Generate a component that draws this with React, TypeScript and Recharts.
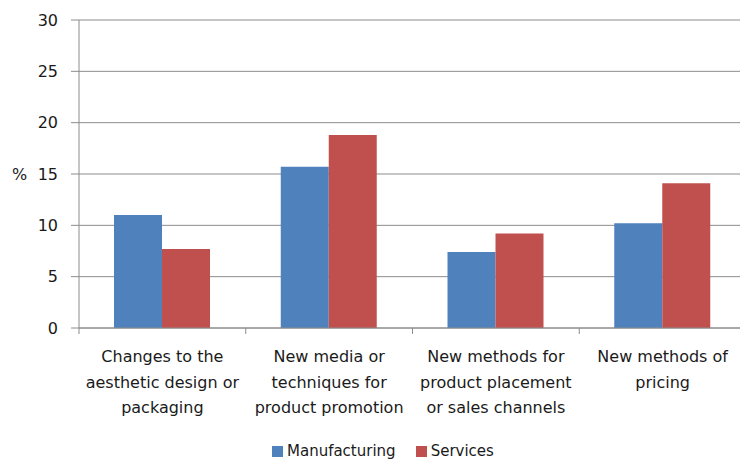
import React from 'react'
import { BarChart, Bar, XAxis, YAxis, CartesianGrid, Legend } from 'recharts'

const categories = [
  ['Changes to the', 'aesthetic design or', 'packaging'],
  ['New media or', 'techniques for', 'product promotion'],
  ['New methods for', 'product placement', 'or sales channels'],
  ['New methods of', 'pricing'],
]
const manufacturing = [11.0, 15.7, 7.4, 10.2]
const services = [7.7, 18.8, 9.2, 14.1]
const yTicks = [0, 5, 10, 15, 20, 25, 30]

const BLUE = '#4F81BD'
const RED = '#C0504D'
const GRID = '#8c8c8c'
const FONT = '"DejaVu Sans", sans-serif'

const data = categories.map((lines, i) => ({
  name: lines.join(' '),
  lines,
  manufacturing: manufacturing[i],
  services: services[i],
}))

// category label centred under the band, tick mark on the band's left edge
const CategoryTick = (props: any) => {
  const { x, y, payload, index } = props
  const half = payload?.offset ?? 83
  const lines = categories[index] ?? [String(payload.value)]
  return (
    <g>
      <line x1={x - half} y1={y - 6} x2={x - half} y2={y} stroke={GRID} />
      <text x={x} y={y} textAnchor="middle" fill="#1a1a1a" fontSize={16} fontFamily={FONT}>
        {lines.map((l, i) => (
          <tspan key={i} x={x} dy={i === 0 ? 28 : 25.5}>
            {l}
          </tspan>
        ))}
      </text>
    </g>
  )
}

const LegendBox = () => (
  <div
    style={{
      display: 'flex',
      alignItems: 'center',
      paddingLeft: 272,
      paddingTop: 14,
      fontFamily: FONT,
      fontSize: 15,
      lineHeight: '17px',
      color: '#1a1a1a',
    }}
  >
    {[
      { label: 'Manufacturing', color: BLUE },
      { label: 'Services', color: RED },
    ].map((it, i) => (
      <div key={it.label} style={{ display: 'flex', alignItems: 'center', marginLeft: i === 0 ? 0 : 20 }}>
        <span style={{ width: 11, height: 11, background: it.color, marginRight: 4, display: 'inline-block' }} />
        <span>{it.label}</span>
      </div>
    ))}
  </div>
)

export default function App() {
  return (
    <div
      style={{
        position: 'fixed',
        left: 0,
        top: 0,
        width: 740,
        height: 459,
        overflow: 'hidden',
        background: '#fff',
      }}
    >
      <BarChart
        width={750}
        height={459}
        data={data}
        margin={{ top: 20, right: 4, bottom: 0, left: 0 }}
        barCategoryGap={35}
        barGap={0}
      >
        <CartesianGrid vertical={false} stroke={GRID} />
        <XAxis
          dataKey="name"
          height={101}
          axisLine={{ stroke: GRID }}
          tickLine={false}
          tickSize={6}
          tickMargin={0}
          interval={0}
          tick={<CategoryTick />}
        />
        <YAxis
          width={79}
          domain={[0, 30]}
          ticks={yTicks}
          interval={0}
          axisLine={{ stroke: GRID }}
          tickLine={{ stroke: GRID }}
          tickSize={8}
          tickMargin={13}
          tick={{ fill: '#1a1a1a', fontSize: 16, fontFamily: FONT }}
          label={{
            value: '%',
            position: 'insideLeft',
            offset: 12,
            fill: '#1a1a1a',
            fontSize: 16,
            fontFamily: FONT,
          }}
        />
        <Legend verticalAlign="bottom" height={30} content={<LegendBox />} />
        <Bar dataKey="manufacturing" name="Manufacturing" fill={BLUE} isAnimationActive={false} />
        <Bar dataKey="services" name="Services" fill={RED} isAnimationActive={false} />
      </BarChart>
    </div>
  )
}
